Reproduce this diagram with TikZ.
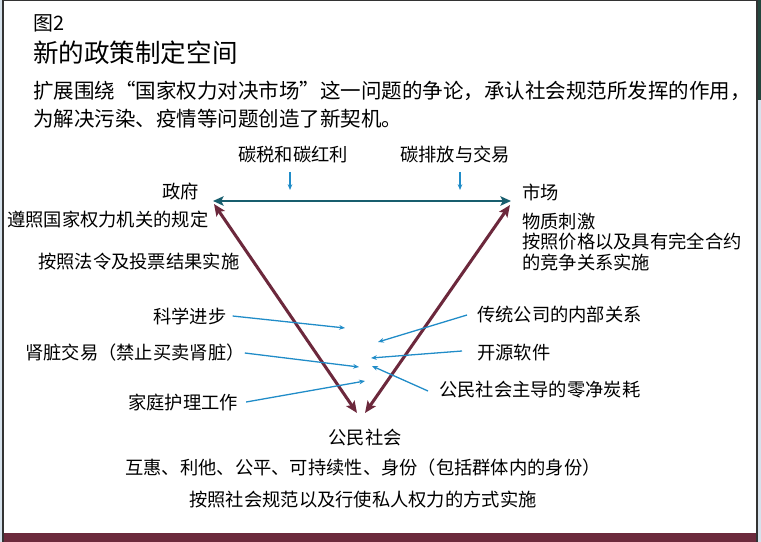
\documentclass[tikz,border=0pt]{standalone}
\usepackage{fontspec}
\setmainfont{Noto Sans CJK SC}
\usetikzlibrary{arrows.meta}

\definecolor{tealln}{RGB}{24,94,110}
\definecolor{maroonln}{RGB}{108,40,60}
\definecolor{blueln}{RGB}{32,140,200}
\definecolor{bandcol}{RGB}{108,42,60}
\definecolor{sidecol}{RGB}{214,226,236}
\definecolor{photocol}{RGB}{36,70,62}

\begin{document}
\begin{tikzpicture}[
  x=0.03cm, y=-0.03cm,
  lbl/.style={inner sep=0pt, font=\fontsize{15.6}{18}\selectfont},
  hdr/.style={inner sep=0pt, anchor=west},
  big/.style={{Stealth[length=10pt,width=8.5pt,inset=2pt]}-{Stealth[length=10pt,width=8.5pt,inset=2pt]},
              line width=2.6pt, maroonln},
  hz/.style={{Stealth[length=9pt,width=8pt,inset=2pt]}-{Stealth[length=9pt,width=8pt,inset=2pt]},
             line width=2.4pt, tealln},
  thin/.style={-{Stealth[length=5pt,width=4pt]}, line width=1.1pt, blueln},
]
\useasboundingbox (0,0) rectangle (761,542);
% frame
\fill[sidecol] (0,0) rectangle (761,542);
\fill[white] (3,0) rectangle (757,533);
\fill[photocol] (757,0) rectangle (761,100);
\fill[bandcol] (3,533) rectangle (757,542);
\draw[line width=1.2pt, black!80] (3,542) -- (3,0.5) -- (757,0.5) -- (757,542);

% heading
\node[hdr, font=\fontsize{17}{20}\selectfont] (fig) at (33,23) {图2};
\node[hdr, font=\fontsize{21.8}{25}\selectfont] (ttl) at (33,53) {新的政策制定空间};
\node[hdr, font=\fontsize{17.5}{20}\selectfont] (txtA) at (33,91)
  {扩展围绕“国家权力对决市场”这一问题的争论，承认社会规范所发挥的作用，};
\node[hdr, font=\fontsize{17.5}{20}\selectfont] (txtB) at (33,119)
  {为解决污染、疫情等问题创造了新契机。};

% corners
\node[lbl, anchor=west] (gov) at (162,192) {政府};
\node[lbl, anchor=west] (mkt) at (522,192) {市场};
\node[lbl] (civ) at (365,438) {公民社会};

\node[lbl, anchor=west] (govA) at (7,220) {遵照国家权力机关的规定};
\node[lbl, anchor=west] (govB) at (38,262) {按照法令及投票结果实施};
\node[lbl, anchor=west] (mktA) at (522,222) {物质刺激};
\node[lbl, anchor=west] (mktB) at (522,242) {按照价格以及具有完全合约};
\node[lbl, anchor=west] (mktC) at (522,262) {的竞争关系实施};
\node[lbl] (civA) at (363,468) {互惠、利他、公平、可持续性、身份（包括群体内的身份）};
\node[lbl] (civB) at (363,500) {按照社会规范以及行使私人权力的方式实施};

% tools
\node[lbl, anchor=west] (tax) at (238,155) {碳税和碳红利};
\node[lbl, anchor=west] (trade) at (400,155) {碳排放与交易};
\node[lbl, anchor=west] (sci) at (153,316) {科学进步};
\node[lbl, anchor=west] (kid) at (25,353) {肾脏交易（禁止买卖肾脏）};
\node[lbl, anchor=west] (care) at (128,402) {家庭护理工作};
\node[lbl, anchor=west] (firm) at (477,315) {传统公司的内部关系};
\node[lbl, anchor=west] (oss) at (477,353) {开源软件};
\node[lbl, anchor=west] (zero) at (439,390) {公民社会主导的零净炭耗};

\coordinate (gH) at (213,201);
\coordinate (mH) at (511,201);
\coordinate (gT) at (214,204);
\coordinate (mT) at (510,205);
\coordinate (cL) at (357,413);
\coordinate (cR) at (365,413);

\draw[hz] (gH) -- (mH);
\draw[big] (gT) -- (cL);
\draw[big] (mT) -- (cR);

\draw[thin, line width=0.9pt] (290,172) -- (290,190);
\draw[thin, line width=0.9pt] (460,172) -- (460,190);

\draw[thin] ([xshift=0.18cm]sci.east) -- (345,328);
\draw[thin] (kid.east) -- (359,367);
\draw[thin] ([xshift=0.24cm]care.east) -- (365,381);
\draw[thin] ([xshift=-0.3cm]firm.west) -- (378,342);
\draw[thin] ([xshift=-0.45cm,yshift=0.06cm]oss.west) -- (371,358);
\draw[thin] ([xshift=-0.33cm,yshift=-0.03cm]zero.west) -- (372,366);
\end{tikzpicture}
\end{document}
